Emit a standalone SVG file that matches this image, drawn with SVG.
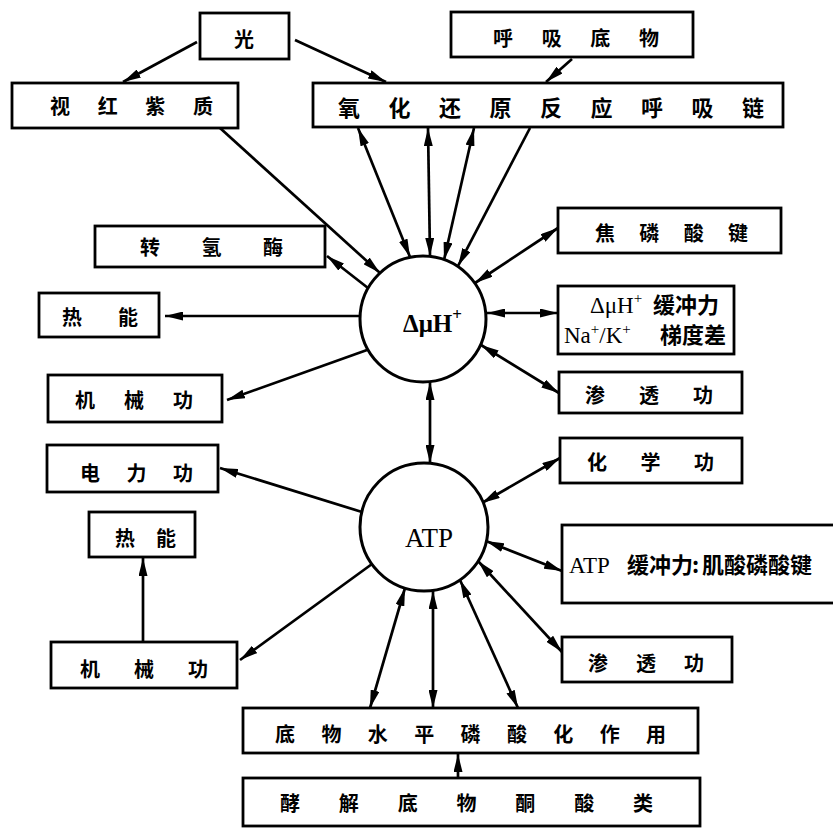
<svg xmlns="http://www.w3.org/2000/svg" width="833" height="829" viewBox="0 0 833 829">
<defs>
<style>
.b{fill:#fff;stroke:#000;stroke-width:2.8}
.c{fill:none;stroke:#000;stroke-width:2.7}
.n{fill:#fff;stroke:#000;stroke-width:3}
.t{font-family:"Noto Sans CJK SC","Noto Sans CJK JP",sans-serif;font-weight:700;font-size:20px;fill:#000;dominant-baseline:central}
.s{font-family:"Liberation Serif","Noto Sans CJK SC",serif;fill:#000}
.k{font-family:"Noto Sans CJK SC",sans-serif;font-weight:700}
</style>
<marker id="ah" viewBox="0 0 18 9" refX="18" refY="4.5" markerWidth="18" markerHeight="9" markerUnits="userSpaceOnUse" orient="auto-start-reverse"><path d="M0,0 L18,4.5 L0,9 z" fill="#000"/></marker>
</defs>
<rect width="833" height="829" fill="#fff"/>

<g id="connectors">
<line class="c" x1="197" y1="42" x2="123" y2="82" marker-end="url(#ah)"/>
<line class="c" x1="295" y1="40" x2="386" y2="82" marker-end="url(#ah)"/>
<line class="c" x1="572" y1="59" x2="546" y2="82" marker-end="url(#ah)"/>
<line class="c" x1="220" y1="128" x2="380" y2="273" marker-end="url(#ah)"/>
<line class="c" x1="358" y1="128" x2="410" y2="257" marker-start="url(#ah)" marker-end="url(#ah)"/>
<line class="c" x1="428" y1="128" x2="430" y2="256" marker-start="url(#ah)" marker-end="url(#ah)"/>
<line class="c" x1="474" y1="128" x2="444" y2="260" marker-start="url(#ah)" marker-end="url(#ah)"/>
<line class="c" x1="530" y1="128" x2="458" y2="266" marker-end="url(#ah)"/>
<line class="c" x1="368" y1="288" x2="327" y2="256" marker-end="url(#ah)"/>
<line class="c" x1="360" y1="316" x2="165" y2="316" marker-end="url(#ah)"/>
<line class="c" x1="367" y1="350" x2="227" y2="400" marker-end="url(#ah)"/>
<line class="c" x1="475" y1="283" x2="558" y2="228" marker-start="url(#ah)" marker-end="url(#ah)"/>
<line class="c" x1="487" y1="313" x2="558" y2="313" marker-start="url(#ah)" marker-end="url(#ah)"/>
<line class="c" x1="481" y1="345" x2="559" y2="393" marker-start="url(#ah)" marker-end="url(#ah)"/>
<line class="c" x1="430" y1="382" x2="430" y2="463" marker-start="url(#ah)" marker-end="url(#ah)"/>
<line class="c" x1="482" y1="503" x2="560" y2="458" marker-start="url(#ah)" marker-end="url(#ah)"/>
<line class="c" x1="486" y1="541" x2="562" y2="571" marker-start="url(#ah)" marker-end="url(#ah)"/>
<line class="c" x1="478" y1="561" x2="562" y2="652" marker-start="url(#ah)" marker-end="url(#ah)"/>
<line class="c" x1="362" y1="512" x2="220" y2="468" marker-end="url(#ah)"/>
<line class="c" x1="372" y1="564" x2="240" y2="660" marker-end="url(#ah)"/>
<line class="c" x1="143" y1="642" x2="143" y2="558" marker-end="url(#ah)"/>
<line class="c" x1="405" y1="588" x2="370" y2="708" marker-start="url(#ah)" marker-end="url(#ah)"/>
<line class="c" x1="433" y1="591" x2="433" y2="708" marker-start="url(#ah)" marker-end="url(#ah)"/>
<line class="c" x1="460" y1="580" x2="518" y2="708" marker-start="url(#ah)" marker-end="url(#ah)"/>
<line class="c" x1="458" y1="778" x2="458" y2="754" marker-end="url(#ah)"/>
</g>

<g id="light"><rect class="b" x="200" y="13" width="89" height="46"/><text class="t" x="244" y="38" text-anchor="middle">光</text></g>
<g id="rhodopsin"><rect class="b" x="12" y="83" width="226" height="45"/><text class="t" x="50" y="105" textLength="163" lengthAdjust="spacing">视红紫质</text></g>
<g id="resp-substrate"><rect class="b" x="451" y="12" width="242" height="45"/><text class="t" x="493" y="37" textLength="166" lengthAdjust="spacing">呼吸底物</text></g>
<g id="resp-chain"><rect class="b" x="313" y="83" width="470" height="44"/><text class="t" x="338" y="106" style="font-size:22px" textLength="426" lengthAdjust="spacing">氧化还原反应呼吸链</text></g>
<g id="transhydrogenase"><rect class="b" x="95" y="226" width="230" height="41"/><text class="t" x="140" y="246" textLength="143" lengthAdjust="spacing">转氢酶</text></g>
<g id="heat1"><rect class="b" x="39" y="293" width="120" height="44"/><text class="t" x="62" y="316" textLength="76" lengthAdjust="spacing">热能</text></g>
<g id="mech1"><rect class="b" x="48" y="375" width="174" height="47"/><text class="t" x="75" y="399" textLength="118" lengthAdjust="spacing">机械功</text></g>
<g id="pyrophosphate"><rect class="b" x="558" y="208" width="223" height="45"/><text class="t" x="595" y="232" textLength="153" lengthAdjust="spacing">焦磷酸键</text></g>
<g id="dmuh-buffer"><rect class="b" x="558" y="286" width="176" height="68"/>
<text class="s" y="313" font-size="23"><tspan x="590">ΔμH</tspan><tspan dy="-10" font-size="15">+</tspan><tspan class="k" x="653" dy="10" font-size="22">缓冲力</tspan></text>
<text class="s" y="343" font-size="23"><tspan x="564">Na</tspan><tspan dy="-9" font-size="15">+</tspan><tspan dy="9">/K</tspan><tspan dy="-9" font-size="15">+</tspan><tspan class="k" x="660" dy="9" font-size="22">梯度差</tspan></text></g>
<g id="osmotic1"><rect class="b" x="559" y="372" width="183" height="41"/><text class="t" x="585" y="394" textLength="128" lengthAdjust="spacing">渗透功</text></g>
<g id="dmuh"><circle class="n" cx="423" cy="319" r="63"/><text class="s" y="332" font-size="25" font-weight="700"><tspan x="403">ΔμH</tspan><tspan dy="-12" font-size="17">+</tspan></text></g>
<g id="chemical"><rect class="b" x="560" y="438" width="182" height="45"/><text class="t" x="587" y="461" textLength="127" lengthAdjust="spacing">化学功</text></g>
<g id="atp-buffer"><rect class="b" x="562" y="525" width="280" height="78"/>
<text class="s" y="573" font-size="23"><tspan x="569">ATP</tspan><tspan class="k" x="627" font-size="22">缓冲力</tspan><tspan class="k" x="692" font-size="22">:</tspan><tspan class="k" x="702" font-size="22">肌酸磷酸键</tspan></text></g>
<g id="osmotic2"><rect class="b" x="562" y="637" width="170" height="45"/><text class="t" x="588" y="662" textLength="116" lengthAdjust="spacing">渗透功</text></g>
<g id="atp"><circle class="n" cx="424" cy="527" r="64"/><text class="s" x="429" y="547" font-size="27" text-anchor="middle">ATP</text></g>
<g id="electric"><rect class="b" x="47" y="445" width="171" height="47"/><text class="t" x="80" y="472" textLength="113" lengthAdjust="spacing">电力功</text></g>
<g id="heat2"><rect class="b" x="89" y="512" width="106" height="45"/><text class="t" x="115" y="537" textLength="61" lengthAdjust="spacing">热能</text></g>
<g id="mech2"><rect class="b" x="51" y="642" width="186" height="46"/><text class="t" x="80" y="668" textLength="128" lengthAdjust="spacing">机械功</text></g>
<g id="substrate-phos"><rect class="b" x="243" y="708" width="455" height="45"/><text class="t" x="275" y="733" textLength="391" lengthAdjust="spacing">底物水平磷酸化作用</text></g>
<g id="glycolysis"><rect class="b" x="243" y="778" width="457" height="48"/><text class="t" x="280" y="802" textLength="373" lengthAdjust="spacing">酵解底物酮酸类</text></g>
</svg>
